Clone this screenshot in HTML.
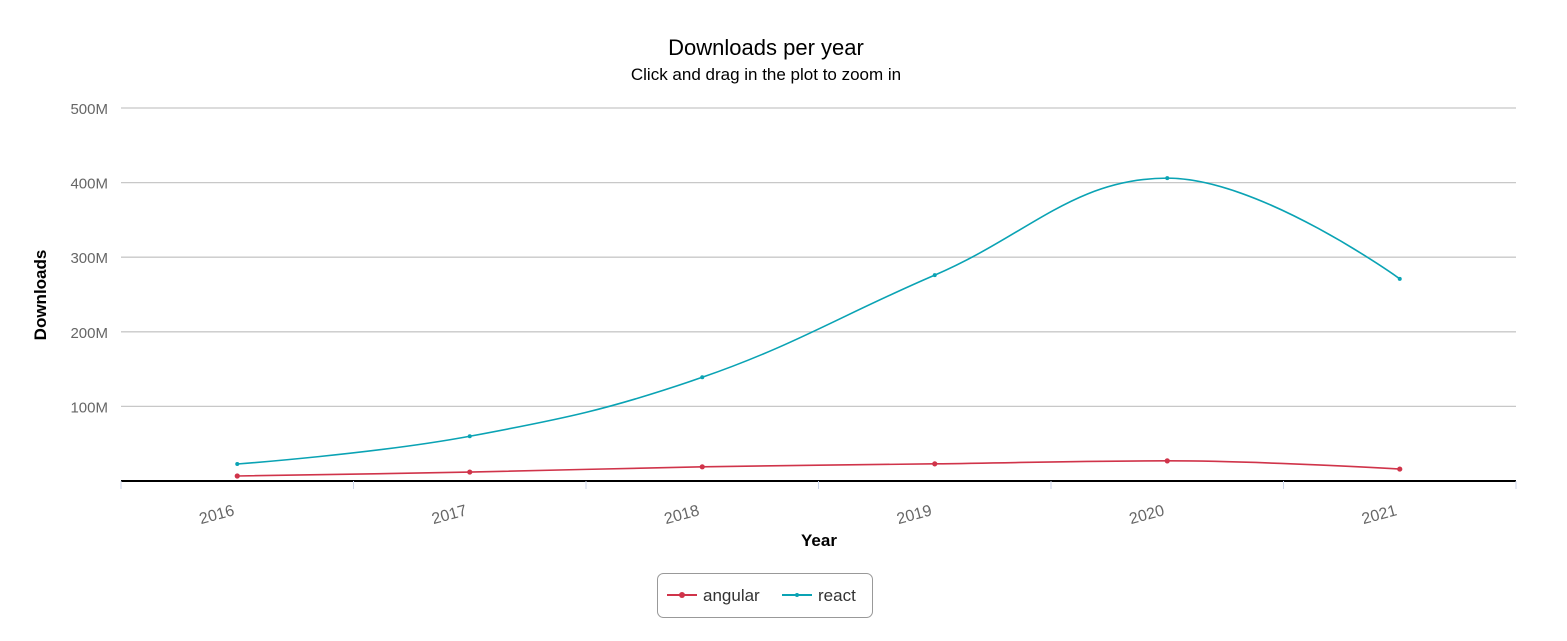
<!DOCTYPE html>
<html><head><meta charset="utf-8"><style>
body{margin:0;background:#fff;font-family:"Liberation Sans","DejaVu Sans",sans-serif;}
</style></head><body>
<svg id="chart" width="1567" height="636" xmlns="http://www.w3.org/2000/svg">
<text x="766" y="55" text-anchor="middle" font-size="22" fill="#000">Downloads per year</text>
<text x="766" y="80" text-anchor="middle" font-size="17" fill="#000">Click and drag in the plot to zoom in</text>
<g id="grid"></g><g id="yticks"></g><g id="xticks"></g><g id="series"></g>
<text transform="translate(46,295) rotate(-90)" text-anchor="middle" font-size="17" font-weight="bold" fill="#000">Downloads</text>
<text x="819" y="546" text-anchor="middle" font-size="17" font-weight="bold" fill="#000">Year</text>
<g>
<rect x="657.5" y="573.5" width="215" height="44" rx="6" fill="#fff" stroke="#999"/>
<g>
<line x1="667" y1="595" x2="697" y2="595" stroke="#d0344a" stroke-width="2"/><circle cx="682" cy="595" r="3" fill="#d0344a"/>
<text x="703" y="601" font-size="17" fill="#333">angular</text></g>
<g>
<line x1="782" y1="595" x2="812" y2="595" stroke="#0aa3b4" stroke-width="2"/><circle cx="797" cy="595" r="2" fill="#0aa3b4"/>
<text x="818" y="601" font-size="17" fill="#333">react</text></g>
</g>
</svg>
<script>
const categories=["2016","2017","2018","2019","2020","2021"];
const angular=[6.7,12,19,23,27,16];
const react=[22.8,60,139,276,406,271];
const yTicks=[0,100,200,300,400,500];
const yTickLabels=["","100M","200M","300M","400M","500M"];
const NS="http://www.w3.org/2000/svg";
const X0=121,X1=1516,Y0=481,Y1=108,YMAX=500;
const band=(X1-X0)/categories.length;
function xs(i){return X0+(i+0.5)*band;}
function ys(v){return Y0-(v/YMAX)*(Y0-Y1);}
function mk(tag,attrs,parent){const e=document.createElementNS(NS,tag);for(const k in attrs)e.setAttribute(k,attrs[k]);parent.appendChild(e);return e;}
const grid=document.getElementById('grid'),yt=document.getElementById('yticks'),xt=document.getElementById('xticks'),ser=document.getElementById('series');
yTicks.forEach((t,i)=>{
  if(t>0){const l=mk('line',{x1:X0,x2:X1,y1:ys(t),y2:ys(t),stroke:'#c8c8c8','stroke-width':1.3},grid);
  
  }
  const tx=mk('text',{x:108,y:ys(t)+6,'text-anchor':'end','font-size':15,fill:'#666'},yt);
  tx.textContent=yTickLabels[i];
  
  
});
const ax=mk('line',{x1:X0,x2:X1,y1:Y0,y2:Y0,stroke:'#000','stroke-width':2},grid);


for(let i=0;i<=categories.length;i++){
  const tk=mk('line',{x1:X0+i*band,x2:X0+i*band,y1:Y0,y2:Y0+8,stroke:'#ccd6eb'},xt);
  
  
}
categories.forEach((c,i)=>{
  const x=xs(i)-2,y=Y0+34;
  const tx=mk('text',{x:x,y:y,'text-anchor':'end','font-size':16,fill:'#666',transform:`rotate(-15 ${x} ${y})`},xt);
  tx.textContent=c;
  
  
});
function spline(pts){
  const sm=1.5,den=sm+1;let d=`M${pts[0][0]},${pts[0][1]}`;
  const ctrl=[];
  for(let i=0;i<pts.length;i++){
    if(i===0||i===pts.length-1){ctrl.push(null);continue;}
    const [px,py]=pts[i-1],[x,y]=pts[i],[nx,ny]=pts[i+1];
    let lx=(sm*x+px)/den,ly=(sm*y+py)/den,rx=(sm*x+nx)/den,ry=(sm*y+ny)/den;
    const corr=((ry-ly)*(rx-x))/(rx-lx)+y-ry;
    ly+=corr;ry+=corr;
    if(ly>py&&ly>y){ly=Math.max(py,y);ry=2*y-ly;}else if(ly<py&&ly<y){ly=Math.min(py,y);ry=2*y-ly;}
    if(ry>ny&&ry>y){ry=Math.max(ny,y);ly=2*y-ry;}else if(ry<ny&&ry<y){ry=Math.min(ny,y);ly=2*y-ry;}
    ctrl.push([lx,ly,rx,ry]);
  }
  for(let i=1;i<pts.length;i++){
    const a=ctrl[i-1],b=ctrl[i];
    const c1=a?[a[2],a[3]]:pts[i-1],c2=b?[b[0],b[1]]:pts[i];
    d+=` C${c1[0]},${c1[1]} ${c2[0]},${c2[1]} ${pts[i][0]},${pts[i][1]}`;
  }
  return d;
}
function drawSeries(vals,color,name,r){
  const pts=vals.map((v,i)=>[xs(i),ys(v)]);
  const p=mk('path',{d:spline(pts),fill:'none',stroke:color,'stroke-width':1.6},ser);
  
  
  pts.forEach((q,i)=>{
    const c=mk('circle',{cx:q[0],cy:q[1],r:r,fill:color},ser);
    
    
  });
}
drawSeries(angular,'#d0344a','angular',2.6);
drawSeries(react,'#0aa3b4','react',2);
</script>
</body></html>
